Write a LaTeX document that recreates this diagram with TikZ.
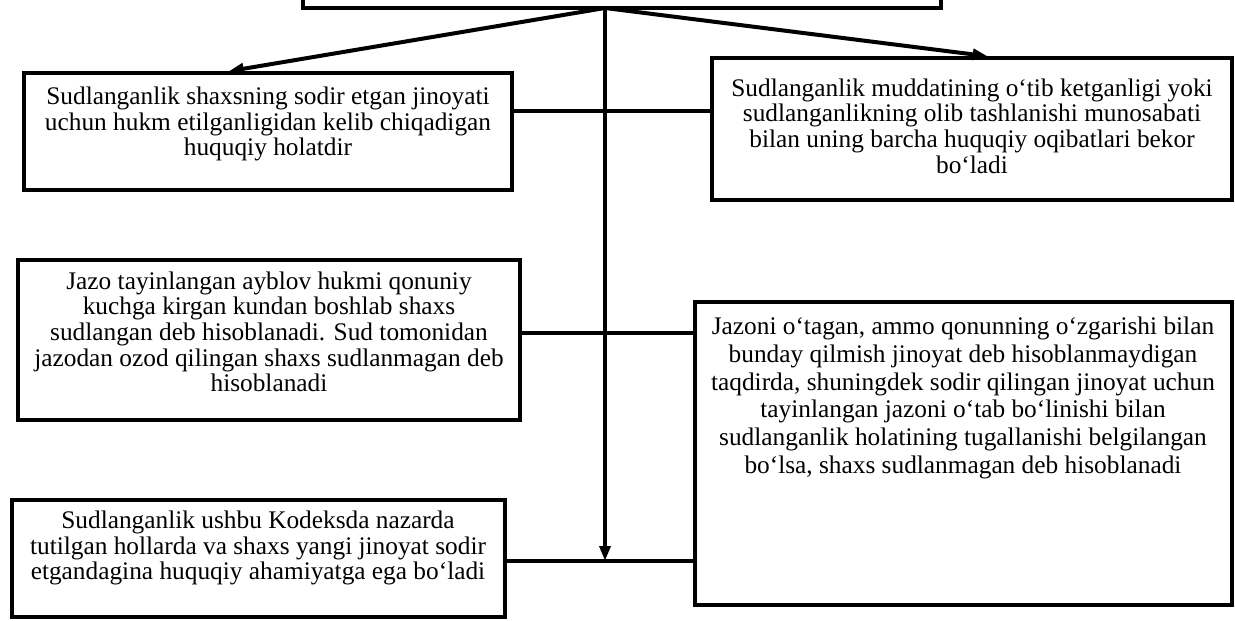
\documentclass[tikz,border=0pt]{standalone}
\usepackage{fontspec}
\setmainfont{Liberation Serif}
\usetikzlibrary{arrows.meta,calc,fit}
\begin{document}
\begin{tikzpicture}[x=0.6pt,y=-0.6pt,
  box/.style={draw=black,line width=2.1pt,inner sep=0pt},
  txt/.style={align=center,font=\fontsize{15.2}{15.4}\selectfont,inner sep=0pt},
  wide/.style={font=\fontsize{15.2}{16.6}\selectfont},
  link/.style={line width=2.3pt},
  arr/.style={line width=2.4pt,-{Triangle[length=9pt,width=6.5pt]}}]
\useasboundingbox (0,0) rectangle (1235,621);
% boxes
\node[box,fit={(303,-30) (941,8)}] (top) {};
\node[box,fit={(24,73) (512,190)}] (A) {};
\node[box,fit={(18,260) (520,420)}] (B) {};
\node[box,fit={(12,500) (505,617)}] (C) {};
\node[box,fit={(712,58) (1232,200)}] (D1) {};
\node[box,fit={(695,302) (1232,605)}] (D2) {};
% texts
\node[txt] (At) at (268,124) {Sudlanganlik shaxsning sodir etgan jinoyati\\uchun hukm etilganligidan kelib chiqadigan\\huquqiy holatdir};
\node[txt] (D1t) at (972,126) {Sudlanganlik muddatining o‘tib ketganligi yoki\\sudlanganlikning olib tashlanishi munosabati\\bilan uning barcha huquqiy oqibatlari bekor\\bo‘ladi};
\node[txt] (Bt) at (269,332) {Jazo tayinlangan ayblov hukmi qonuniy\\kuchga kirgan kundan boshlab shaxs\\sudlangan deb hisoblanadi. Sud tomonidan\\jazodan ozod qilingan shaxs sudlanmagan deb\\hisoblanadi};
\node[txt,wide] (D2t) at (963,398) {Jazoni o‘tagan, ammo qonunning o‘zgarishi bilan\\bunday qilmish jinoyat deb hisoblanmaydigan\\taqdirda, shuningdek sodir qilingan jinoyat uchun\\tayinlangan jazoni o‘tab bo‘linishi bilan\\sudlanganlik holatining tugallanishi belgilangan\\bo‘lsa, shaxs sudlanmagan deb hisoblanadi};
\node[txt] (Ct) at (258,548) {Sudlanganlik ushbu Kodeksda nazarda\\tutilgan hollarda va shaxs yangi jinoyat sodir\\etgandagina huquqiy ahamiyatga ega bo‘ladi};
% coordinates
\coordinate (hub) at (605,8);
\coordinate (yA) at (0,111);
\coordinate (yB) at (0,333);
\coordinate (yC) at (0,561);
\coordinate (tA) at ($(A.north west)!0.42!(A.north east)$);
\coordinate (tD) at ($(D1.north west)!0.53!(D1.north east)$);
% connectors
\draw[link] (A.east |- yA) -- (D1.west |- yA);
\draw[link] (B.east |- yB) -- (D2.west |- yB);
\draw[link] (C.east |- yC) -- (D2.west |- yC);
\draw[arr] (hub) -- (tA);
\draw[arr] (hub) -- (tD);
\draw[arr] (hub) -- (hub |- yC);
\end{tikzpicture}
\end{document}
